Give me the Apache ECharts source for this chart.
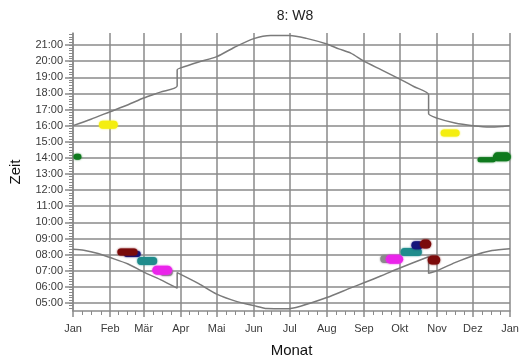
<!DOCTYPE html>
<html>
<head>
<meta charset="utf-8">
<script src="https://cdn.jsdelivr.net/npm/echarts@6/dist/echarts.min.js"></script>
<style>
  html, body { margin: 0; padding: 0; background: #fff; }
  #chart { width: 524px; height: 363px; }
</style>
</head>
<body>
<div id="chart"></div>
<script>
// Month names along the bottom, placed at the first day of each month (day of year)
const monthLabels = ['Jan', 'Feb', 'Mär', 'Apr', 'Mai', 'Jun', 'Jul', 'Aug', 'Sep', 'Okt', 'Nov', 'Dez', 'Jan'];
const monthStarts = [0, 31, 59, 90, 120, 151, 181, 212, 243, 273, 304, 334, 365];

// Hour labels on the time axis
const hourLabels = ['05:00', '06:00', '07:00', '08:00', '09:00', '10:00', '11:00', '12:00', '13:00',
                    '14:00', '15:00', '16:00', '17:00', '18:00', '19:00', '20:00', '21:00'];

// Sunset over the year (day of year, clock time), with the summer-time jumps
const sunset = [
  [0, '16:00'], [15, '16:24'], [31, '16:52'], [46, '17:18'], [59, '17:43'], [73, '18:05'],
  [87, '18:28'], [87, '19:28'], [90, '19:35'], [105, '19:57'], [120, '20:17'], [135, '20:52'],
  [151, '21:24'], [165, '21:36'], [181, '21:36'], [195, '21:25'], [212, '21:04'], [222, '20:46'],
  [232, '20:30'], [243, '20:00'], [258, '19:27'], [273, '18:53'], [285, '18:25'], [297, '17:55'],
  [297, '16:45'], [304, '16:28'], [319, '16:10'], [334, '16:00'], [348, '15:55'], [358, '15:57'],
  [365, '16:00']
];

// Sunrise over the year (day of year, clock time)
const sunrise = [
  [0, '08:20'], [9, '08:16'], [21, '08:04'], [31, '07:49'], [46, '07:25'], [59, '06:55'],
  [73, '06:27'], [87, '05:55'], [87, '06:53'], [105, '06:12'], [120, '05:33'], [137, '05:05'],
  [151, '04:50'], [162, '04:39'], [178, '04:38'], [190, '04:48'], [212, '05:20'], [232, '05:56'],
  [243, '06:15'], [258, '06:42'], [273, '07:10'], [297, '07:52'], [297, '06:50'], [304, '07:00'],
  [319, '07:30'], [334, '07:56'], [350, '08:15'], [365, '08:22']
];

// Recorded periods (day of year, clock time)
const greenJan    = [[3, '14:04'], [4.5, '14:04']];
const yellowFeb   = [[25, '16:03'], [34, '16:03']];
const navySpring  = [[45, '08:02'], [54, '08:02']];
const maroonFeb   = [[40, '08:10'], [51, '08:10']];
const tealMar     = [[57, '07:36'], [67, '07:36']];
const grayMar     = [[76, '06:55'], [80, '06:55']];
const magentaMar  = [[70, '07:02'], [79, '07:02']];
const graySep     = [[260, '07:44'], [263, '07:44']];
const magentaSep  = [[265, '07:43'], [272, '07:43']];
const tealOkt     = [[277, '08:10'], [288, '08:10']];
const navyOkt     = [[286, '08:35'], [289, '08:35']];
const maroonOkt   = [[293.5, '08:39'], [295.5, '08:39']];
const maroonNov   = [[300, '07:40'], [303, '07:40']];
const yellowNov   = [[310, '15:33'], [320, '15:33']];
const greenDecLow = [[340, '13:53'], [351, '13:53']];
const greenDecTop = [[354.5, '14:04'], [362, '14:04']];

function toMinutes(hhmm) {
  const p = hhmm.split(':');
  return Number(p[0]) * 60 + Number(p[1]);
}
function fmtMinutes(v) {
  const h = Math.floor(v / 60), m = Math.round(v - h * 60);
  return String(h).padStart(2, '0') + ':' + String(m).padStart(2, '0');
}
function toPoints(arr) {
  return arr.map(function (p) { return [p[0], toMinutes(p[1])]; });
}

const hourValues = hourLabels.map(toMinutes);
const Y_MIN = 270, Y_MAX = 1305;

// small ticks: tenths of an hour on the time axis, quarters of a month on the month axis
const minuteTicks = [];
for (let v = 280; v <= 1300; v += 10) minuteTicks.push(v);
const monthQuarterTicks = [];
for (let i = 0; i < monthStarts.length - 1; i++) {
  const a = monthStarts[i], b = monthStarts[i + 1];
  for (let k = 1; k < 4; k++) monthQuarterTicks.push(a + (b - a) * k / 4);
}

const gridColor = '#8a8a8a';
const textColor = '#3a3a3a';
const fontFam = 'Liberation Sans, Arial, sans-serif';

function curve(name, arr) {
  return {
    name: name, type: 'line', data: toPoints(arr), showSymbol: false, z: 3,
    smooth: 0.25,
    lineStyle: { color: '#7a7a7a', width: 1.5 }, silent: true
  };
}
function blob(name, arr, color, width, z) {
  return {
    name: name, type: 'line', data: toPoints(arr), showSymbol: false, z: z || 5,
    lineStyle: { color: color, width: width, cap: 'round', shadowBlur: 2, shadowColor: color },
    silent: true
  };
}

const chart = echarts.init(document.getElementById('chart'), null, { renderer: 'canvas' });
chart.setOption({
  animation: false,
  backgroundColor: '#ffffff',
  title: {
    text: '8: W8', left: 290, top: 4, textAlign: 'center',
    textStyle: { fontFamily: fontFam, fontSize: 14, fontWeight: 'normal', color: '#222' }
  },
  grid: { left: 72, right: 14, top: 33, bottom: 46 },
  xAxis: [
    {
      type: 'value', min: 0, max: 365, position: 'bottom',
      name: 'Monat', nameLocation: 'middle', nameGap: 32,
      nameTextStyle: { fontFamily: fontFam, fontSize: 15, color: '#111' },
      axisLine: { show: true, lineStyle: { color: gridColor, width: 1.5 } },
      axisTick: { show: true, customValues: monthStarts, length: 6, inside: false,
                  lineStyle: { color: gridColor, width: 1.5 } },
      axisLabel: { customValues: monthStarts, margin: 12,
                   formatter: function (v) { return monthLabels[monthStarts.indexOf(Math.round(v))]; },
                   fontFamily: fontFam, fontSize: 11, color: textColor },
      splitLine: { show: true, lineStyle: { color: gridColor, width: 1.5 } }
    },
    {
      type: 'value', min: 0, max: 365, position: 'bottom', offset: 0,
      axisLine: { show: false },
      axisTick: { show: true, customValues: monthQuarterTicks, length: 4,
                  lineStyle: { color: gridColor, width: 1 } },
      axisLabel: { show: false },
      splitLine: { show: false }
    }
  ],
  yAxis: [
    {
      type: 'value', min: Y_MIN, max: Y_MAX, position: 'left',
      name: 'Zeit', nameLocation: 'middle', nameGap: 50,
      nameTextStyle: { fontFamily: fontFam, fontSize: 15, color: '#111' },
      axisLine: { show: true, lineStyle: { color: gridColor, width: 1.5 } },
      axisTick: { show: true, customValues: hourValues, length: 8,
                  lineStyle: { color: gridColor, width: 1.5 } },
      axisLabel: { customValues: hourValues, margin: 10, formatter: fmtMinutes,
                   fontFamily: fontFam, fontSize: 11, color: textColor },
      splitLine: { show: true, lineStyle: { color: gridColor, width: 1.5 } }
    },
    {
      type: 'value', min: Y_MIN, max: Y_MAX, position: 'left', offset: 0,
      axisLine: { show: false },
      axisTick: { show: true, customValues: minuteTicks, length: 4,
                  lineStyle: { color: gridColor, width: 1 } },
      axisLabel: { show: false },
      splitLine: { show: false }
    }
  ],
  series: [
    curve('Sonnenuntergang', sunset),
    curve('Sonnenaufgang', sunrise),
    blob('grün Jan', greenJan, '#0f7a1e', 6),
    blob('gelb Feb', yellowFeb, '#f4ee10', 8),
    blob('navy Feb', navySpring, '#15157a', 6, 4),
    blob('rot Feb', maroonFeb, '#7a0b0b', 7),
    blob('petrol Mär', tealMar, '#1f8c8c', 8),
    blob('grau Mär', grayMar, '#8a8a8a', 8, 4),
    blob('magenta Mär', magentaMar, '#ea24ea', 9),
    blob('grau Sep', graySep, '#8a8a8a', 8, 4),
    blob('magenta Sep', magentaSep, '#ea24ea', 9),
    blob('petrol Okt', tealOkt, '#1f8c8c', 8),
    blob('navy Okt', navyOkt, '#15157a', 8),
    blob('rot Okt', maroonOkt, '#7a0b0b', 9, 6),
    blob('rot Nov', maroonNov, '#7d0c0c', 9),
    blob('gelb Nov', yellowNov, '#f4ee10', 7),
    blob('grün Dez a', greenDecLow, '#0f7a1e', 5),
    blob('grün Dez b', greenDecTop, '#0f7a1e', 9)
  ]
});
</script>
</body>
</html>
